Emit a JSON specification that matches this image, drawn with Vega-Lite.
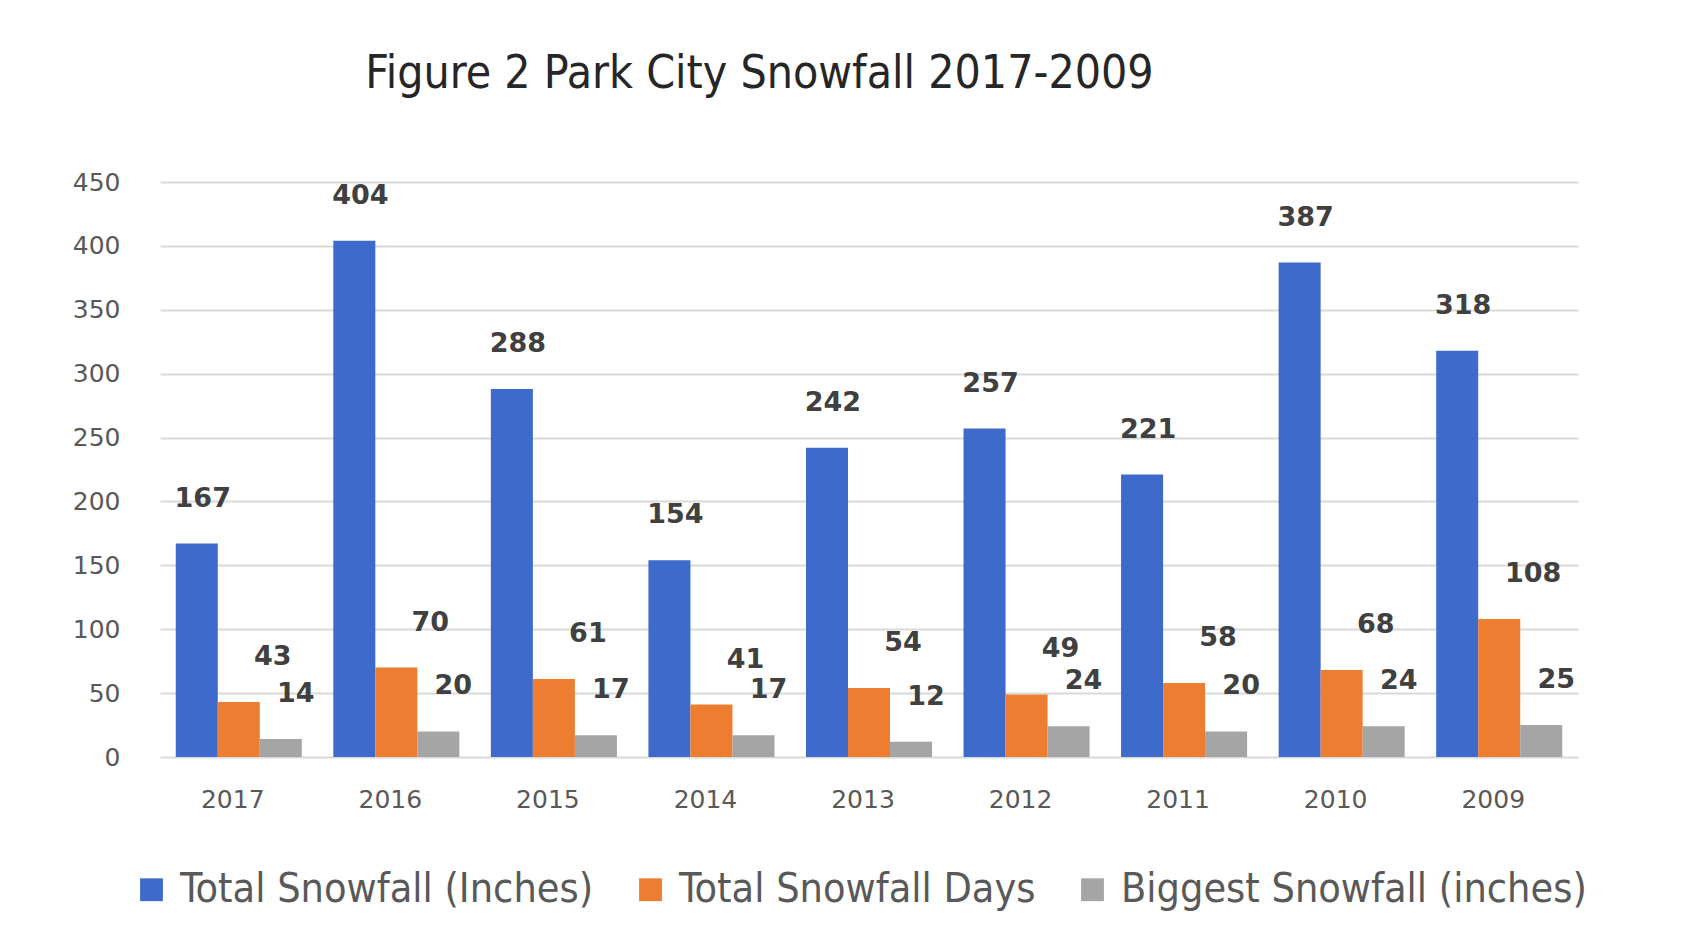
{
  "$schema": "https://vega.github.io/schema/vega-lite/v6.json",
  "width": 1418,
  "height": 575,
  "autosize": {"type": "none"},
  "padding": {"left": 160, "top": 182, "right": 103, "bottom": 188},
  "background": "white",
  "title": {
    "text": "Figure 2 Park City Snowfall 2017-2009",
    "anchor": "start",
    "dx": 293,
    "offset": 72,
    "font": "Liberation Sans Narrow, DejaVu Sans Condensed, sans-serif",
    "fontSize": 46,
    "fontWeight": "normal",
    "color": "#262626"
  },
  "data": {
    "values": [
      {"year": "2017", "series": "Total Snowfall (Inches)", "value": 167},
      {"year": "2017", "series": "Total Snowfall Days", "value": 43},
      {"year": "2017", "series": "Biggest Snowfall (inches)", "value": 14},
      {"year": "2016", "series": "Total Snowfall (Inches)", "value": 404},
      {"year": "2016", "series": "Total Snowfall Days", "value": 70},
      {"year": "2016", "series": "Biggest Snowfall (inches)", "value": 20},
      {"year": "2015", "series": "Total Snowfall (Inches)", "value": 288},
      {"year": "2015", "series": "Total Snowfall Days", "value": 61},
      {"year": "2015", "series": "Biggest Snowfall (inches)", "value": 17},
      {"year": "2014", "series": "Total Snowfall (Inches)", "value": 154},
      {"year": "2014", "series": "Total Snowfall Days", "value": 41},
      {"year": "2014", "series": "Biggest Snowfall (inches)", "value": 17},
      {"year": "2013", "series": "Total Snowfall (Inches)", "value": 242},
      {"year": "2013", "series": "Total Snowfall Days", "value": 54},
      {"year": "2013", "series": "Biggest Snowfall (inches)", "value": 12},
      {"year": "2012", "series": "Total Snowfall (Inches)", "value": 257},
      {"year": "2012", "series": "Total Snowfall Days", "value": 49},
      {"year": "2012", "series": "Biggest Snowfall (inches)", "value": 24},
      {"year": "2011", "series": "Total Snowfall (Inches)", "value": 221},
      {"year": "2011", "series": "Total Snowfall Days", "value": 58},
      {"year": "2011", "series": "Biggest Snowfall (inches)", "value": 20},
      {"year": "2010", "series": "Total Snowfall (Inches)", "value": 387},
      {"year": "2010", "series": "Total Snowfall Days", "value": 68},
      {"year": "2010", "series": "Biggest Snowfall (inches)", "value": 24},
      {"year": "2009", "series": "Total Snowfall (Inches)", "value": 318},
      {"year": "2009", "series": "Total Snowfall Days", "value": 108},
      {"year": "2009", "series": "Biggest Snowfall (inches)", "value": 25}
    ]
  },
  "encoding": {
    "x": {
      "field": "year",
      "type": "nominal",
      "sort": null,
      "scale": {"paddingInner": 0.2, "paddingOuter": 0.1},
      "axis": {
        "title": null,
        "labelAngle": 0,
        "domain": false,
        "ticks": false,
        "labelFont": "DejaVu Sans",
        "labelFontSize": 25,
        "labelColor": "#595959",
        "labelPadding": 30,
        "labelOffset": -6
      }
    },
    "xOffset": {
      "field": "series",
      "type": "nominal",
      "sort": ["Total Snowfall (Inches)", "Total Snowfall Days", "Biggest Snowfall (inches)"],
      "scale": {"paddingInner": 0, "paddingOuter": 0}
    },
    "y": {
      "field": "value",
      "type": "quantitative",
      "scale": {"domain": [0, 450]},
      "axis": {
        "title": null,
        "values": [0, 50, 100, 150, 200, 250, 300, 350, 400, 450],
        "domain": false,
        "ticks": false,
        "labelFont": "DejaVu Sans",
        "labelFontSize": 25,
        "labelColor": "#595959",
        "labelPadding": 40,
        "gridColor": "#d9d9d9",
        "gridWidth": 2
      }
    }
  },
  "layer": [
    {
      "mark": {"type": "bar"},
      "encoding": {
        "color": {
          "field": "series",
          "type": "nominal",
          "sort": ["Total Snowfall (Inches)", "Total Snowfall Days", "Biggest Snowfall (inches)"],
          "scale": {
            "domain": ["Total Snowfall (Inches)", "Total Snowfall Days", "Biggest Snowfall (inches)"],
            "range": ["#3d6acb", "#ed7d31", "#a5a5a5"]
          },
          "legend": {
            "title": null,
            "orient": "none",
            "legendX": -29,
            "legendY": 687,
            "direction": "horizontal",
            "symbolType": "square",
            "symbolSize": 520,
            "symbolStrokeWidth": 0,
            "labelFont": "Liberation Sans Narrow, DejaVu Sans Condensed, sans-serif",
            "labelFontSize": 41,
            "labelColor": "#595959",
            "labelLimit": 0,
            "labelOffset": 8,
            "columnPadding": 36
          }
        }
      }
    },
    {
      "transform": [{"filter": "datum.series == 'Total Snowfall (Inches)'"}],
      "mark": {"type": "text", "dy": -45, "dx": 6, "baseline": "middle", "font": "DejaVu Sans", "fontSize": 27, "fontWeight": "bold", "color": "#404040"},
      "encoding": {"text": {"field": "value", "type": "quantitative"}}
    },
    {
      "transform": [{"filter": "datum.series == 'Total Snowfall Days'"}],
      "mark": {"type": "text", "dy": -45, "dx": 34, "baseline": "middle", "font": "DejaVu Sans", "fontSize": 27, "fontWeight": "bold", "color": "#404040"},
      "encoding": {"text": {"field": "value", "type": "quantitative"}}
    },
    {
      "transform": [{"filter": "datum.series == 'Biggest Snowfall (inches)'"}],
      "mark": {"type": "text", "dy": -45, "dx": 15, "baseline": "middle", "font": "DejaVu Sans", "fontSize": 27, "fontWeight": "bold", "color": "#404040"},
      "encoding": {"text": {"field": "value", "type": "quantitative"}}
    }
  ],
  "config": {
    "view": {"stroke": null}
  }
}
